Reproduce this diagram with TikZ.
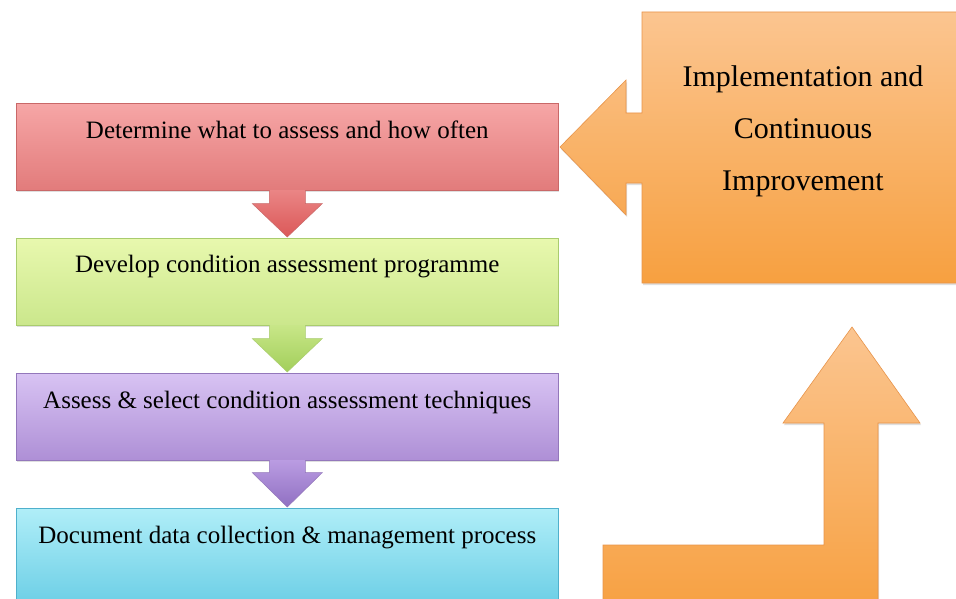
\documentclass[tikz,border=0pt]{standalone}
\usepackage{fontspec}
\setmainfont{Liberation Serif}
\usetikzlibrary{calc,shadows}
\definecolor{redT}{HTML}{F6A6A6}
\definecolor{redB}{HTML}{E27B7B}
\definecolor{redD}{HTML}{C96868}
\definecolor{redAT}{HTML}{EA8585}
\definecolor{redAB}{HTML}{DB5858}
\definecolor{grnT}{HTML}{E8F8AE}
\definecolor{grnB}{HTML}{CBE78C}
\definecolor{grnD}{HTML}{A9CC6E}
\definecolor{grnAT}{HTML}{C8E688}
\definecolor{grnAB}{HTML}{A2CF5A}
\definecolor{purT}{HTML}{D8C3F3}
\definecolor{purB}{HTML}{AE8FD6}
\definecolor{purD}{HTML}{9377BB}
\definecolor{purAT}{HTML}{BA9CE2}
\definecolor{purAB}{HTML}{9070C2}
\definecolor{cyaT}{HTML}{B0EEF8}
\definecolor{cyaB}{HTML}{62CAE3}
\definecolor{cyaD}{HTML}{4FB0CC}
\definecolor{oraT}{HTML}{FBC590}
\definecolor{oraB}{HTML}{F7A040}
\definecolor{oraD}{HTML}{E8944A}
\begin{document}
\begin{tikzpicture}[x=1pt,y=-1pt,
  stepbox/.style={rectangle, minimum width=542pt, minimum height=87pt,
    anchor=north west, inner sep=0pt, line width=0.6pt,
    drop shadow={shadow xshift=1pt, shadow yshift=-2pt, opacity=0.25}},
  steptext/.style={font=\fontsize{25}{30}\selectfont, anchor=center, inner sep=0pt},
  downarrow/.style={line width=0.5pt, line join=miter},
  orangeshape/.style={top color=oraT, bottom color=oraB, draw=oraD, line width=0.6pt,
    drop shadow={shadow xshift=1pt, shadow yshift=-2pt, opacity=0.25}}]
\useasboundingbox (0,0) rectangle (956,599);
\fill[white] (0,0) rectangle (956,599);

% step boxes
\node[stepbox, top color=redT, bottom color=redB, draw=redD] (b1) at (16,103) {};
\node[stepbox, top color=grnT, bottom color=grnB, draw=grnD] (b2) at (16,238) {};
\node[stepbox, top color=purT, bottom color=purB, draw=purD] (b3) at (16,373) {};
\node[stepbox, top color=cyaT, bottom color=cyaB, draw=cyaD, minimum height=110pt] (b4) at (16,508) {};

% down arrows between boxes
\path[downarrow, top color=redAT, bottom color=redAB, draw=redD]
  ($(b1.south)+(-18,-0.5)$) -- ($(b1.south)+(-18,13)$) -- ($(b1.south)+(-35,13)$)
  -- ($(b2.north)+(0,-1)$) -- ($(b1.south)+(35,13)$) -- ($(b1.south)+(18,13)$)
  -- ($(b1.south)+(18,-0.5)$);
\path[downarrow, top color=grnAT, bottom color=grnAB, draw=grnD]
  ($(b2.south)+(-18,-0.5)$) -- ($(b2.south)+(-18,13)$) -- ($(b2.south)+(-35,13)$)
  -- ($(b3.north)+(0,-1)$) -- ($(b2.south)+(35,13)$) -- ($(b2.south)+(18,13)$)
  -- ($(b2.south)+(18,-0.5)$);
\path[downarrow, top color=purAT, bottom color=purAB, draw=purD]
  ($(b3.south)+(-18,-0.5)$) -- ($(b3.south)+(-18,12)$) -- ($(b3.south)+(-35,12)$)
  -- ($(b4.north)+(0,-1)$) -- ($(b3.south)+(35,12)$) -- ($(b3.south)+(18,12)$)
  -- ($(b3.south)+(18,-0.5)$);

% step texts
\node[steptext] (t1) at ($(b1.north)+(0,26.5)$) {Determine what to assess and how often};
\node[steptext] (t2) at ($(b2.north)+(0,29)$) {Develop condition assessment programme};
\node[steptext] (t3) at ($(b3.north)+(0,29)$) {Assess \& select condition assessment techniques};
\node[steptext] (t4) at ($(b4.north)+(0,30)$) {Document data collection \& management process};

% orange callout box with left-pointing arrow
\path[orangeshape] (642,12) -- (962,12) -- (962,283) -- (642,283) -- (642,183)
  -- (626,183) -- (626,215) -- (560,147) -- (626,80) -- (626,113) -- (642,113) -- cycle;
\node[align=center, inner sep=0pt, font=\fontsize{30}{52}\selectfont] (impl) at (803,131)
  {Implementation and\\Continuous\\Improvement};

% bent up arrow
\path[orangeshape] (603,545) -- (824,545) -- (824,423) -- (783,423) -- (852,327)
  -- (920,423) -- (878,423) -- (878,615) -- (603,615) -- cycle;
\end{tikzpicture}
\end{document}
